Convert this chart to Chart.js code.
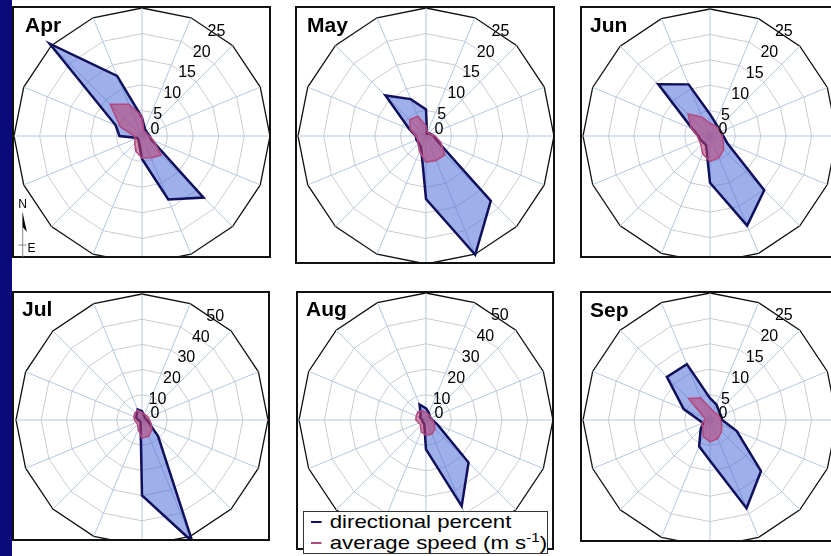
<!DOCTYPE html>
<html>
<head>
<meta charset="utf-8">
<script src="https://cdn.jsdelivr.net/npm/chart.js@4.4.1/dist/chart.umd.min.js"></script>
<style>
html,body{margin:0;padding:0;background:#fff;width:831px;height:556px;overflow:hidden;position:relative;font-family:"Liberation Sans",Arial,sans-serif;}
#strip{position:absolute;left:0;top:0;width:12px;height:556px;background:#0a0a7c;z-index:6;}
.box{position:absolute;border:2px solid #111;box-sizing:border-box;z-index:3;overflow:hidden;}
.cv{position:absolute;}
.title{position:absolute;font-weight:bold;font-size:21px;line-height:21px;color:#000;z-index:4;white-space:nowrap;}
#legend{position:absolute;left:303px;top:511px;width:245px;height:43px;border:1px solid #333;background:#fff;box-sizing:border-box;z-index:5;}
.lg{position:absolute;left:7px;font-size:19px;line-height:19px;white-space:nowrap;transform:scaleX(1.17);transform-origin:0 0;color:#000;}
.dash{display:inline-block;width:9px;height:2px;vertical-align:middle;margin-right:7px;position:relative;top:-1px;}
</style>
</head>
<body>
<div id="strip"></div>
<div id="root"></div>
<svg style="position:absolute;left:12px;top:195px;z-index:4" width="30" height="62">
  <text x="6.3" y="13.3" font-size="12" font-family="Liberation Sans, Arial">N</text>
  <line x1="10.7" y1="18" x2="10.7" y2="62" stroke="#8a8a8a" stroke-width="1"/>
  <polygon points="10.7,18 14.9,37 10.7,32" fill="#000"/>
  <line x1="6.3" y1="50" x2="14.7" y2="50" stroke="#8a8a8a" stroke-width="1"/>
  <text x="15.5" y="56.5" font-size="12" font-family="Liberation Sans, Arial">E</text>
</svg>
<div id="legend">
  <div class="lg" style="top:0px"><span class="dash" style="background:#10105c"></span>directional percent</div>
  <div class="lg" style="top:21px"><span class="dash" style="background:#b04a80"></span>average speed (m s<sup style="font-size:13px;line-height:0">-1</sup>)</div>
</div>
<script>
// ---- data ----
const directions = ['N','NNE','NE','ENE','E','ESE','SE','SSE','S','SSW','SW','WSW','W','WNW','NW','NNW'];
const months = ['Apr','May','Jun','Jul','Aug','Sep'];
const seriesNames = ['directional percent','average speed (m s-1)'];

const aprPercent = [3.6, 1.5, 1.2, 1.2, 1.5, 2.0, 17.0, 13.4, 4.5, 1.5, 1.0, 1.0, 4.4, 5.6, 25.5, 12.7];
const aprSpeed   = [3.9, 1.0, 1.0, 1.0, 1.5, 2.5, 5.3, 4.6, 4.3, 3.2, 2.0, 1.5, 1.5, 4.5, 8.8, 6.7];
const mayPercent = [5.2, 0.5, 0.8, 1.0, 1.5, 2.3, 17.9, 25.1, 12.3, 2.5, 2.0, 2.0, 2.0, 3.5, 11.2, 7.8];
const maySpeed   = [2.0, 0.8, 0.8, 1.0, 1.8, 3.1, 5.2, 5.2, 5.1, 3.3, 2.2, 1.8, 2.0, 3.3, 4.5, 4.2];
const junPercent = [4.3, 2.8, 2.3, 2.3, 2.6, 3.7, 15.1, 19.1, 9.2, 2.0, 1.8, 2.0, 2.3, 3.8, 14.4, 11.0];
const junSpeed   = [2.5, 2.3, 2.2, 2.3, 2.4, 2.8, 3.8, 4.6, 5.0, 3.8, 2.5, 2.3, 2.5, 4.0, 6.1, 4.0];
const julPercent = [3.5, 2.0, 1.5, 1.5, 2.0, 3.0, 9.0, 52.3, 29.9, 1.5, 1.0, 1.0, 1.5, 2.5, 3.0, 4.5];
const julSpeed   = [3.0, 2.5, 2.5, 2.7, 3.0, 4.0, 5.5, 7.0, 7.2, 4.0, 2.5, 2.5, 3.0, 3.5, 4.0, 4.2];
const augPercent = [4.6, 3.0, 2.0, 2.0, 2.5, 5.0, 23.7, 36.7, 11.6, 1.8, 1.5, 1.5, 1.5, 2.5, 3.0, 6.6];
const augSpeed   = [3.0, 2.5, 2.0, 2.0, 2.5, 3.5, 5.0, 6.0, 6.0, 5.0, 3.0, 3.0, 4.0, 4.2, 4.5, 4.0];
const sepPercent = [4.3, 3.3, 2.5, 2.3, 2.4, 5.7, 14.2, 18.8, 8.0, 5.6, 2.6, 1.5, 2.2, 5.6, 12.0, 11.9];
const sepSpeed   = [2.4, 1.8, 1.8, 2.0, 2.1, 2.5, 3.2, 4.0, 4.3, 3.5, 2.0, 1.8, 1.0, 1.2, 6.0, 4.7];

const ticks25 = [0, 5, 10, 15, 20, 25];
const ticks50 = [0, 10, 20, 30, 40, 50];

const percentSeries = [aprPercent, mayPercent, junPercent, julPercent, augPercent, sepPercent];
const speedSeries   = [aprSpeed, maySpeed, junSpeed, julSpeed, augSpeed, sepSpeed];
const tickSets      = [ticks25, ticks25, ticks25, ticks50, ticks50, ticks25];
const scaleMax      = [25, 25, 25, 50, 50, 25];
const scaleStep     = [5, 5, 5, 10, 10, 5];

// ---- layout (positions/sizes only) ----
const layout = [
  {cx:142, cy:136, r:128, box:[12,6,271,258],  tx:25,  ty:14},
  {cx:426, cy:136, r:128, box:[295,6,555,264], tx:307, ty:14},
  {cx:710, cy:136, r:127, box:[580,6,845,258], tx:590, ty:14},
  {cx:142, cy:420, r:126, box:[12,291,270,541], tx:22,  ty:298},
  {cx:426, cy:420, r:127, box:[296,291,554,550],tx:306, ty:298},
  {cx:710, cy:420, r:127, box:[580,291,845,542],tx:590, ty:299}
];

const diagTicks = {
  id: 'diagTicks',
  afterDatasetsDraw(chart, args, opts) {
    const s = chart.scales.r, ctx = chart.ctx;
    const ang = 35 * Math.PI / 180;
    ctx.save();
    ctx.font = '16px "Liberation Sans", Arial, sans-serif';
    ctx.fillStyle = '#000';
    ctx.textAlign = 'center';
    ctx.textBaseline = 'middle';
    opts.labels.forEach(v => {
      const d = s.getDistanceFromCenterForValue(v);
      let x = s.xCenter + d * Math.sin(ang) + 1;
      let y = s.yCenter - d * Math.cos(ang);
      if (v === 0) { x = s.xCenter + 13; y = s.yCenter - 6; }
      ctx.fillText(String(v), x, y);
    });
    ctx.restore();
  }
};

const root = document.getElementById('root');
const pad = 6;
months.forEach((m, i) => {
  const L = layout[i];
  const size = 2 * L.r + 2 * pad;

  const b = document.createElement('div');
  b.className = 'box';
  b.style.left = L.box[0] + 'px'; b.style.top = L.box[1] + 'px';
  b.style.width = (L.box[2] - L.box[0]) + 'px'; b.style.height = (L.box[3] - L.box[1]) + 'px';
  root.appendChild(b);

  const cv = document.createElement('canvas');
  cv.className = 'cv';
  cv.width = size; cv.height = size;
  cv.style.left = (L.cx - L.r - pad - L.box[0] - 2) + 'px';
  cv.style.top = (L.cy - L.r - pad - L.box[1] - 2) + 'px';
  cv.style.width = size + 'px'; cv.style.height = size + 'px';
  b.appendChild(cv);

  const t = document.createElement('div');
  t.className = 'title';
  t.textContent = m;
  t.style.left = L.tx + 'px'; t.style.top = L.ty + 'px';
  root.appendChild(t);

  const max = scaleMax[i];
  new Chart(cv.getContext('2d'), {
    type: 'radar',
    data: {
      labels: directions,
      datasets: [
        { label: seriesNames[1], data: speedSeries[i], borderColor: '#b04a80', backgroundColor: 'rgba(190,60,110,0.55)',
          borderWidth: 1.5, pointRadius: 0, fill: true, order: 0, tension: 0 },
        { label: seriesNames[0], data: percentSeries[i], borderColor: '#10105c', backgroundColor: 'rgba(80,110,215,0.55)',
          borderWidth: 2.5, pointRadius: 0, fill: true, order: 1, tension: 0 }
      ]
    },
    options: {
      responsive: false,
      devicePixelRatio: 1,
      animation: false,
      layout: { padding: pad },
      plugins: { legend: { display: false }, tooltip: { enabled: false }, title: { display: false },
                 diagTicks: { labels: tickSets[i] } },
      scales: {
        r: {
          min: 0, max: max,
          ticks: { display: false, stepSize: scaleStep[i] },
          grid: {
            color: c => (c.tick && c.tick.value === max) ? '#111' : '#c8ccd6',
            lineWidth: c => (c.tick && c.tick.value === max) ? 1.3 : 1
          },
          angleLines: { color: '#b2c7e2', lineWidth: 1 },
          pointLabels: { display: false }
        }
      }
    },
    plugins: [diagTicks]
  });
});
</script>
</body>
</html>
